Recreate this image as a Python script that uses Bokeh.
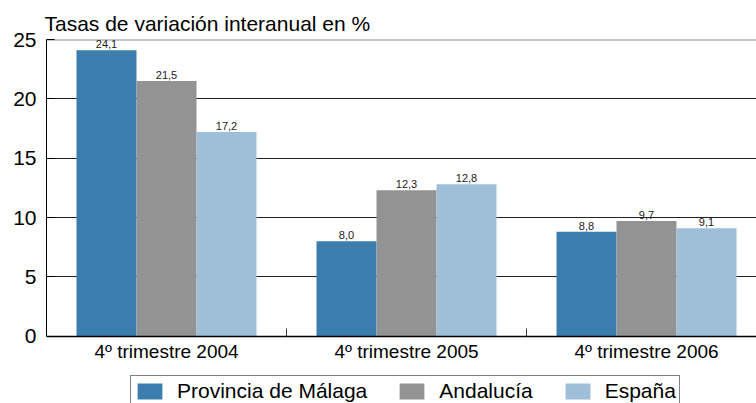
from bokeh.plotting import figure
from bokeh.models import Range1d, FixedTicker, Span, ColumnDataSource
from bokeh.core.properties import value
from bokeh.embed import file_html
from bokeh.resources import INLINE

# ---- data ----
categories = ["4º trimestre 2004", "4º trimestre 2005", "4º trimestre 2006"]
series_names = ["Provincia de Málaga", "Andalucía", "España"]
malaga = [24.1, 8.0, 8.8]
andalucia = [21.5, 12.3, 9.7]
espana = [17.2, 12.8, 9.1]
y_ticks = [0, 5, 10, 15, 20, 25]
title_text = "Tasas de variación interanual en %"

colors = ["#3b7eae", "#939393", "#9fbfd8"]
FONT = "Liberation Sans"

n = len(categories)
# frame reaches the canvas bottom; room below 0 holds the category labels and legend
p = figure(width=756, height=403, output_backend="svg", toolbar_location=None,
           x_range=Range1d(0, n - 0.0417), y_range=Range1d(-5.67, y_ticks[-1]),
           min_border_left=46, min_border_right=0, min_border_top=39, min_border_bottom=0)
p.outline_line_color = None
p.background_fill_color = "white"

# title
p.title.text = title_text
p.title.text_font = FONT
p.title.text_font_size = "21px"
p.title.text_font_style = "normal"
p.title.text_color = "black"
p.title.align = "left"
p.title.offset = -2
p.title.standoff = 10

centers = [i + 0.5 for i in range(n)]
bar_w = 0.25
offsets = [-0.25, 0.0, 0.25]

for vals, name, color, off in zip([malaga, andalucia, espana], series_names, colors, offsets):
    src = ColumnDataSource(dict(
        x=[c + off for c in centers],
        top=vals,
        label=[f"{v:.1f}".replace(".", ",") for v in vals],
    ))
    p.vbar(x="x", top="top", bottom=0, width=bar_w, source=src,
           fill_color=color, line_color=None, legend_label=name)
    p.text(x="x", y="top", text="label", source=src, text_align="center",
           text_baseline="bottom", y_offset=-2, text_font=value(FONT),
           text_font_size="11px", text_color="#1a1a1a")

# grid
p.xgrid.visible = False
p.ygrid.ticker = FixedTicker(ticks=y_ticks[1:-1])
p.ygrid.grid_line_color = "#222222"
p.ygrid.grid_line_width = 1
p.add_layout(Span(location=y_ticks[-1], dimension="width", line_color="#8a8a8a",
                  line_width=2, level="underlay"))

# x axis, pinned at y = 0
xa = p.xaxis[0]
xa.fixed_location = 0
xa.ticker = FixedTicker(ticks=centers, minor_ticks=[i for i in range(1, n)])
xa.major_label_overrides = {c: cat for c, cat in zip(centers, categories)}
xa.major_tick_in = 0
xa.major_tick_out = 0
xa.minor_tick_in = 8
xa.minor_tick_out = 0
xa.minor_tick_line_color = "#333333"
xa.axis_line_color = "black"
xa.axis_line_width = 1.5
xa.major_label_text_font = FONT
xa.major_label_text_font_size = "19px"
xa.major_label_text_color = "black"
xa.major_label_standoff = 5

# y axis
ya = p.yaxis[0]
ya.bounds = (y_ticks[0], y_ticks[-1])
ya.ticker = FixedTicker(ticks=y_ticks)
ya.major_tick_in = 8
ya.major_tick_out = 0
ya.minor_tick_in = 0
ya.minor_tick_out = 0
ya.major_tick_line_color = "black"
ya.axis_line_color = "black"
ya.major_label_text_font = FONT
ya.major_label_text_font_size = "21px"
ya.major_label_text_color = "black"
ya.major_label_standoff = 10

# legend
lg = p.legend[0]
lg.orientation = "horizontal"
lg.location = (84, -4)
lg.label_text_font = FONT
lg.label_text_font_size = "21px"
lg.label_text_color = "black"
lg.glyph_width = 31
lg.glyph_height = 20
lg.label_standoff = 12
lg.spacing = 29
lg.padding = 3
lg.margin = 0
lg.border_line_color = "black"
lg.border_line_width = 1
lg.background_fill_color = "white"
lg.background_fill_alpha = 1.0

open("out.html", "w").write(file_html(p, INLINE))
